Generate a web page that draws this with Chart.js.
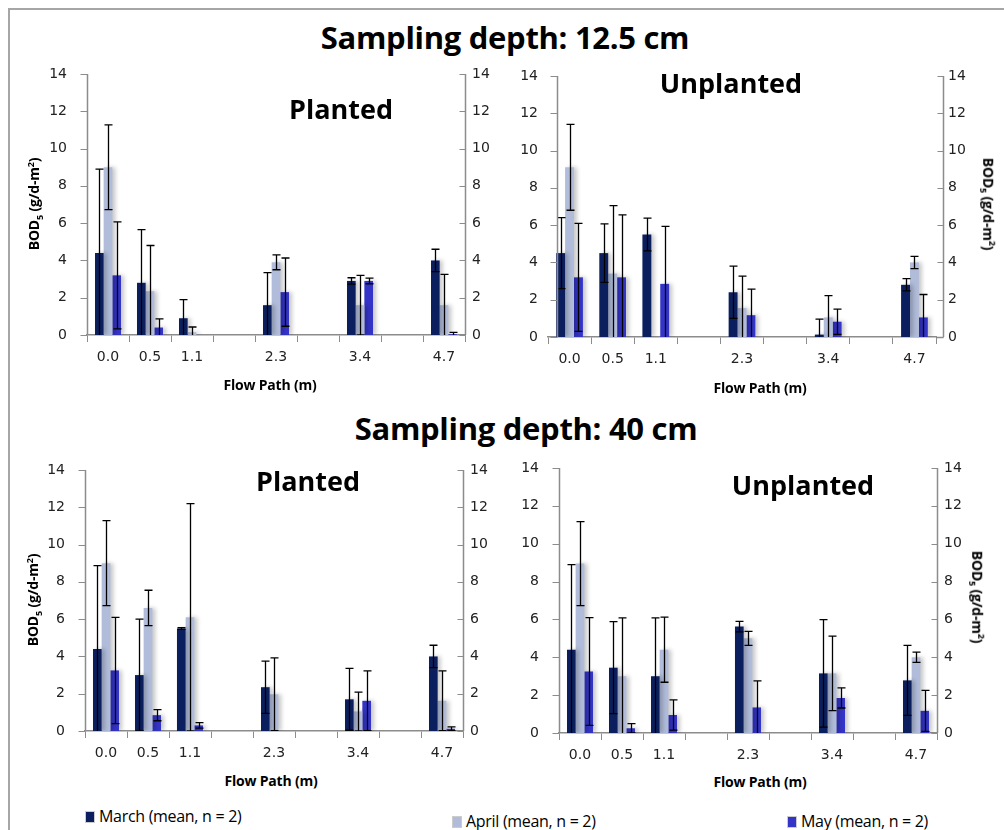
<!DOCTYPE html>
<html>
<head>
<meta charset="utf-8">
<script src="https://cdn.jsdelivr.net/npm/chart.js@4.4.1/dist/chart.umd.min.js"></script>
<style>
  body { margin: 0; background: #fff; }
  #page { position: relative; width: 1004px; height: 830px; overflow: hidden; font-family: 'Open Sans', sans-serif; }
  canvas { position: absolute; }
  .frame-top { position: absolute; left: 8px; top: 8px; width: 1000px; height: 0; border-top: 2px solid #a6a6a6; }
  .frame-left { position: absolute; left: 8px; top: 8px; width: 0; height: 830px; border-left: 2px solid #a6a6a6; }
  .lbl { position: absolute; white-space: nowrap; transform: translate(-50%, -50%); color: #000; }
  .main { font-weight: bold; font-size: 31px; letter-spacing: -0.3px; }
  .panel { font-weight: bold; font-size: 27px; }
  .xt { font-weight: bold; font-size: 14px; letter-spacing: -0.2px; }
  .yt { font-weight: bold; font-size: 14px; letter-spacing: -0.2px; }
  .yt.left { transform: translate(-50%, -50%) rotate(-90deg); }
  .yt.right { transform: translate(-50%, -50%) rotate(90deg); }
  .yt sub, .yt sup { font-size: 9px; }
  .leg { position: absolute; white-space: nowrap; font-size: 16px; letter-spacing: -0.3px; color: #000; transform: translateY(-50%); }
  .leg i { display: inline-block; width: 8px; height: 10px; margin-right: 4px; vertical-align: -1px; border: 1px solid #ccc; }
</style>
</head>
<body>
<div id="page">
  <div class="frame-top"></div>
  <div class="frame-left"></div>

  <div class="lbl main" style="left:505px; top:37px;">Sampling depth: 12.5 cm</div>
  <div class="lbl main" style="left:526px; top:428px;">Sampling depth: 40 cm</div>

  <canvas id="c1" width="500" height="320" style="left:0; top:60px;"></canvas>
  <canvas id="c2" width="504" height="320" style="left:500px; top:60px;"></canvas>
  <canvas id="c3" width="500" height="320" style="left:0; top:450px;"></canvas>
  <canvas id="c4" width="504" height="320" style="left:500px; top:450px;"></canvas>

  <div class="lbl panel" style="left:341px; top:108px;">Planted</div>
  <div class="lbl panel" style="left:731px; top:82px;">Unplanted</div>
  <div class="lbl panel" style="left:308px; top:480px;">Planted</div>
  <div class="lbl panel" style="left:803px; top:484px;">Unplanted</div>

  <div class="lbl yt left" style="left:35px; top:204px;">BOD<sub>5</sub> (g/d-m<sup>2</sup>)</div>
  <div class="lbl yt right" style="left:988px; top:204px;">BOD<sub>5</sub> (g/d-m<sup>2</sup>)</div>
  <div class="lbl yt left" style="left:34px; top:600px;">BOD<sub>5</sub> (g/d-m<sup>2</sup>)</div>
  <div class="lbl yt right" style="left:977px; top:597px;">BOD<sub>5</sub> (g/d-m<sup>2</sup>)</div>

  <div class="lbl xt" style="left:270px; top:384px;">Flow Path (m)</div>
  <div class="lbl xt" style="left:760px; top:387px;">Flow Path (m)</div>
  <div class="lbl xt" style="left:271px; top:780px;">Flow Path (m)</div>
  <div class="lbl xt" style="left:760px; top:781px;">Flow Path (m)</div>

  <div class="leg" style="left:85px; top:816px;"><i style="background:#0b1f5e"></i>March (mean, n = 2)</div>
  <div class="leg" style="left:452px; top:821px;"><i style="background:#b0bcd9"></i>April (mean, n = 2)</div>
  <div class="leg" style="left:787px; top:821px;"><i style="background:#3434c8"></i>May (mean, n = 2)</div>
</div>

<script>
// categories (blank slots keep the uneven spacing of the flow path)
const flowPath = ['0.0', '0.5', '1.1', '', '2.3', '', '3.4', '', '4.7'];
const yTicks = [0, 2, 4, 6, 8, 10, 12, 14];

// Sampling depth 12.5 cm, planted
const march125P = [4.4, 2.8, 0.9, null, 1.6, null, 2.9, null, 4.0];
const march125PErr = [4.5, 2.85, 1.0, null, 1.75, null, 0.17, null, 0.6];
const april125P = [9.0, 2.35, 0.15, null, 3.9, null, 1.6, null, 1.6];
const april125PErr = [2.27, 2.45, 0.28, null, 0.4, null, 1.6, null, 1.65];
const may125P = [3.2, 0.4, null, null, 2.3, null, 2.9, null, 0.04];
const may125PErr = [2.87, 0.46, null, null, 1.83, null, 0.15, null, 0.1];

// Sampling depth 12.5 cm, unplanted
const march125U = [4.5, 4.5, 5.5, null, 2.4, null, 0.13, null, 2.8];
const march125UErr = [1.9, 1.57, 0.88, null, 1.4, null, 0.83, null, 0.33];
const april125U = [9.1, 3.4, null, null, 1.55, null, 1.05, null, 4.0];
const april125UErr = [2.3, 3.65, null, null, 1.72, null, 1.17, null, 0.33];
const may125U = [3.2, 3.2, 2.85, null, 1.17, null, 0.82, null, 1.05];
const may125UErr = [2.9, 3.35, 3.08, null, 1.4, null, 0.68, null, 1.23];

// Sampling depth 40 cm, planted
const march40P = [4.4, 3.0, 5.5, null, 2.35, null, 1.7, null, 4.0];
const march40PErr = [4.47, 3.0, 0.05, null, 1.4, null, 1.66, null, 0.6];
const april40P = [9.0, 6.6, 6.1, null, 1.97, null, 1.05, null, 1.62];
const april40PErr = [2.28, 0.95, 6.1, null, 1.95, null, 1.04, null, 1.6];
const may40P = [3.25, 0.85, 0.3, null, null, null, 1.62, null, 0.12];
const may40PErr = [2.85, 0.3, 0.15, null, null, null, 1.6, null, 0.1];

// Sampling depth 40 cm, unplanted
const march40U = [4.4, 3.45, 3.0, null, 5.62, null, 3.15, null, 2.78];
const march40UErr = [4.5, 2.43, 3.08, null, 0.28, null, 2.84, null, 1.85];
const april40U = [8.95, 3.0, 4.4, null, 5.0, null, 3.15, null, 4.0];
const april40UErr = [2.22, 3.08, 1.72, null, 0.37, null, 1.97, null, 0.27];
const may40U = [3.25, 0.25, 0.95, null, 1.35, null, 1.85, null, 1.17];
const may40UErr = [2.85, 0.25, 0.8, null, 1.4, null, 0.53, null, 1.08];

const COLORS = { march: '#0b1f5e', april: '#b0bcd9', may: '#3434c8' };
const AXIS = '#8c8c8c';
const TICK_FONT = { family: "'DejaVu Sans', sans-serif", size: 14 };

// soft shadow to the right of each bar, like the spreadsheet original
const barShadow = {
    id: 'barShadow',
    beforeDatasetDraw(chart) {
        const ctx = chart.ctx;
        ctx.save();
        ctx.shadowColor = 'rgba(0,0,0,0.22)';
        ctx.shadowBlur = 4;
        ctx.shadowOffsetX = 3;
        ctx.shadowOffsetY = 0;
    },
    afterDatasetDraw(chart) {
        chart.ctx.restore();
    }
};

// symmetric error bars, clipped to the plot area
const errorBars = {
    id: 'errorBars',
    afterDatasetsDraw(chart) {
        const ctx = chart.ctx;
        const area = chart.chartArea;
        const yScale = chart.scales.y;
        ctx.save();
        ctx.beginPath();
        ctx.rect(area.left, area.top - 20, area.right - area.left, area.bottom - area.top + 20);
        ctx.clip();
        ctx.strokeStyle = '#000';
        ctx.lineWidth = 1.3;
        chart.data.datasets.forEach((ds, i) => {
            const meta = chart.getDatasetMeta(i);
            meta.data.forEach((bar, j) => {
                const v = ds.data[j], e = ds.errors[j];
                if (v == null || e == null) return;
                const top = yScale.getPixelForValue(v + e);
                const bot = yScale.getPixelForValue(v - e);
                const x = Math.round(bar.x) + 0.5;
                ctx.beginPath();
                ctx.moveTo(x, top); ctx.lineTo(x, bot);
                ctx.moveTo(x - 4, top); ctx.lineTo(x + 4, top);
                ctx.moveTo(x - 4, bot); ctx.lineTo(x + 4, bot);
                ctx.stroke();
            });
        });
        ctx.restore();
    }
};

// value axes: left ticks point out, right ticks point in. In the upper
// unplanted panel the spreadsheet drew both axes a few px off the plot edge.
const valueAxes = {
    id: 'valueAxes',
    afterDraw(chart, args, opts) {
        const ctx = chart.ctx;
        const area = chart.chartArea;
        const s = chart.scales.y;
        const xl = Math.round(area.left + opts.shiftL) + 0.5;
        const xr = Math.round(area.right + opts.shiftR) + 0.5;
        ctx.save();
        ctx.strokeStyle = AXIS;
        ctx.lineWidth = 1.5;
        ctx.beginPath();
        ctx.moveTo(xl, area.top); ctx.lineTo(xl, area.bottom);
        ctx.moveTo(xr, area.top); ctx.lineTo(xr, area.bottom);
        if (opts.shiftR > 0) {
            ctx.moveTo(area.right, area.bottom + 0.5); ctx.lineTo(xr, area.bottom + 0.5);
        }
        ctx.stroke();
        ctx.lineWidth = 1;
        yTicks.forEach(t => {
            const y = Math.round(s.getPixelForValue(t)) + 0.5;
            ctx.beginPath();
            ctx.moveTo(xl - 7, y); ctx.lineTo(xl, y);
            ctx.moveTo(xr - 6, y); ctx.lineTo(xr, y);
            ctx.stroke();
        });
        ctx.restore();
    }
};

// fixed axis boxes; label overhang must not push the plot area around
function fixBox(scale, size) {
    if (scale.isHorizontal()) scale.height = size; else scale.width = size;
    scale.paddingTop = 0; scale.paddingBottom = 0;
    scale.paddingLeft = 0; scale.paddingRight = 0;
}

function makePanel(id, series, box) {
    const datasets = [
        { label: 'March (mean, n = 2)', data: series[0], errors: series[1], backgroundColor: COLORS.march },
        { label: 'April (mean, n = 2)', data: series[2], errors: series[3], backgroundColor: COLORS.april },
        { label: 'May (mean, n = 2)', data: series[4], errors: series[5], backgroundColor: COLORS.may }
    ];
    return new Chart(document.getElementById(id), {
        type: 'bar',
        data: { labels: flowPath, datasets },
        options: {
            responsive: false,
            animation: false,
            devicePixelRatio: 1,
            layout: { padding: { top: box.top, left: 0, right: 0, bottom: 0 } },
            datasets: { bar: { categoryPercentage: 0.62, barPercentage: 1.0 } },
            plugins: {
                legend: { display: false },
                tooltip: { enabled: false },
                valueAxes: { shiftL: box.shiftL, shiftR: box.shiftR }
            },
            scales: {
                x: {
                    type: 'category',
                    offset: true,
                    grid: { offset: true, drawOnChartArea: false, drawTicks: true, tickLength: 7, color: AXIS },
                    border: { color: AXIS, width: 1.5 },
                    ticks: { color: '#222', font: TICK_FONT, padding: 7, autoSkip: false, maxRotation: 0 },
                    afterFit(scale) { fixBox(scale, box.bottom); }
                },
                y: {
                    position: 'left',
                    min: 0, max: 14,
                    grid: { display: false, drawTicks: false },
                    border: { display: false },
                    ticks: { stepSize: 2, color: '#222', font: TICK_FONT, padding: box.padL },
                    afterFit(scale) { fixBox(scale, box.left); }
                },
                y2: {
                    position: 'right',
                    min: 0, max: 14,
                    grid: { display: false, drawTicks: false },
                    border: { display: false },
                    ticks: { stepSize: 2, color: '#222', font: TICK_FONT, padding: box.padR },
                    afterFit(scale) { fixBox(scale, box.right); }
                }
            }
        },
        plugins: [barShadow, errorBars, valueAxes]
    });
}

makePanel('c1', [march125P, march125PErr, april125P, april125PErr, may125P, may125PErr],
    { left: 87, right: 35, top: 14, bottom: 45, shiftL: 0, shiftR: 0, padL: 20, padR: 7 });
makePanel('c2', [march125U, march125UErr, april125U, april125UErr, may125U, may125UErr],
    { left: 48, right: 68, top: 16, bottom: 43, shiftL: 9, shiftR: 7, padL: 10, padR: 12 });
makePanel('c3', [march40P, march40PErr, april40P, april40PErr, may40P, may40PErr],
    { left: 85, right: 37, top: 20, bottom: 39, shiftL: 0, shiftR: 0, padL: 20, padR: 7 });
makePanel('c4', [march40U, march40UErr, april40U, april40UErr, may40U, may40UErr],
    { left: 59, right: 67, top: 18, bottom: 37, shiftL: 0, shiftR: 0, padL: 20, padR: 7 });
</script>
</body>
</html>
